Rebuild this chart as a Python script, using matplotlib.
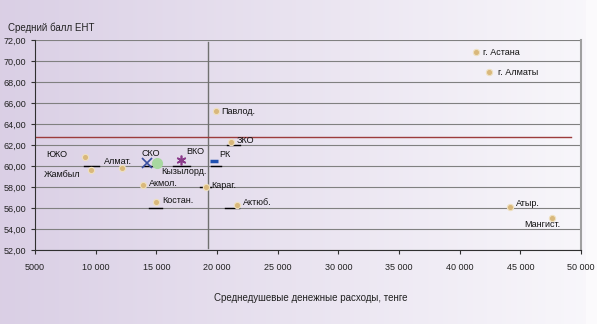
import matplotlib
matplotlib.use("Agg")
import matplotlib.pyplot as plt
from matplotlib.ticker import FuncFormatter, MultipleLocator
import numpy as np

plt.rcParams['font.family'] = ['Liberation Sans Narrow', 'Liberation Sans', 'DejaVu Sans']

# регионы: средние душевые расходы (тенге) и средний балл ЕНТ
regions = ['ЮКО', 'Жамбыл', 'Алмат.', 'Акмол.', 'Костан.', 'Караг.', 'Актюб.',
           'ЗКО', 'Павлод.', 'г. Астана', 'г. Алматы', 'Атыр.', 'Мангист.']
spend = [9100, 9600, 12200, 13900, 15000, 19100, 21650,
         21150, 19900, 41350, 42450, 44150, 47600]
score = [60.9, 59.6, 59.8, 58.2, 56.6, 58.0, 56.3,
         62.3, 65.2, 70.8, 68.9, 56.1, 55.1]
# смещения подписей (пиксели)
lbl_off = [(-28, 0), (-34, -5), (-13, 3), (4, -1), (4, -1), (4, -1), (4, 0),
           (4, -1), (4, -2), (5, -2), (6, -2), (4, 1), (-20, -7)]

# отдельно выделенные точки
special = ['СКО', 'Кызылорд.', 'ВКО', 'РК']
sp_x = [14250, 15050, 17050, 19750]
sp_y = [60.3, 60.3, 60.6, 60.5]
sp_marker = ['x', 'o', (6, 2, 0), '_']
sp_color = ['#3a4fa0', '#a8d8a0', '#8a3a8a', '#2050b0']
sp_off = [(-4, 5), (3, -8), (4, 4), (4, 3)]

# короткие черные линии-выноски (x0, x1, y)
leaders = [(9000, 10300, 60), (14000, 15200, 60), (16400, 17800, 60),
           (19500, 20300, 60), (20800, 21900, 62), (14400, 15500, 56),
           (18600, 19500, 58), (20700, 21800, 56)]

avg_x = 19250   # вертикальная линия
avg_y = 62.75   # красная линия

fig = plt.figure(figsize=(5.97, 3.24), dpi=100)

bg = fig.add_axes([0, 0, 1, 1], zorder=-10)
grad = np.linspace(0, 1, 256)
c0 = np.array([0.855, 0.812, 0.898])
c1 = np.array([0.975, 0.97, 0.985])
img = c0[None, :] + (c1 - c0)[None, :] * grad[:, None]
bg.imshow(img[None, :, :], aspect='auto', extent=[0, 1, 0, 1])
bg.axvspan(0.982, 1.0, color='#fbfafc')
bg.set_xlim(0, 1)
bg.set_ylim(0, 1)
bg.axis('off')

ax = fig.add_axes([0.0586, 0.228, 0.9145, 0.649])
ax.patch.set_alpha(0)
ax.set_xlim(5000, 50000)
ax.set_ylim(52, 72)
ax.yaxis.set_major_locator(MultipleLocator(2))
ax.xaxis.set_major_locator(MultipleLocator(5000))
ax.yaxis.set_major_formatter(FuncFormatter(lambda v, p: f'{v:.2f}'.replace('.', ',')))
ax.xaxis.set_major_formatter(FuncFormatter(
    lambda v, p: '5000' if v == 5000 else f'{int(v):,}'.replace(',', ' ')))
ax.grid(axis='y', color='#808080', lw=0.8)
ax.set_axisbelow(True)
ax.spines['top'].set_visible(False)
ax.spines['right'].set_color('#a0a0a0')
ax.spines['right'].set_linewidth(1.5)
ax.spines['left'].set_color('#303030')
ax.spines['bottom'].set_color('#303030')
ax.tick_params(labelsize=6.5, length=3, color='#303030', colors='#222222')
ax.tick_params(axis='x', pad=6)

ax.axvline(avg_x, ymin=0.01, ymax=0.99, color='#707070', lw=1.0)
ax.plot([5000, 49200], [avg_y, avg_y], color='#9c3c3c', lw=1.0)

for x0, x1, y in leaders:
    ax.plot([x0, x1], [y, y], color='black', lw=1.0)

ax.plot(spend, score, 'o', ms=4.5, color='#d9b87c', mec='#efe0c0', mew=0.8, zorder=5)
for name, x, y, (dx, dy) in zip(regions, spend, score, lbl_off):
    ax.annotate(name, (x, y), xytext=(dx, dy), textcoords='offset points',
                fontsize=6.5, color='#111111')

for name, x, y, m, c, (dx, dy) in zip(special, sp_x, sp_y, sp_marker, sp_color, sp_off):
    if m == '_':
        ax.plot(x, y, m, ms=6, mew=2.5, color=c, zorder=6)
    elif m == 'o':
        ax.plot(x, y, m, ms=7, color=c, zorder=4)
    else:
        ax.plot(x, y, marker=m, ms=7, mew=1.2, color=c, linestyle='none', zorder=6)
    ax.annotate(name, (x, y), xytext=(dx, dy), textcoords='offset points',
                fontsize=6.5, color='#111111')

fig.text(0.013, 0.905, 'Средний балл ЕНТ', fontsize=7, color='#222222')
fig.text(0.52, 0.07, 'Среднедушевые денежные расходы, тенге', fontsize=7,
         color='#222222', ha='center')

fig.savefig('out.png', dpi=100)
